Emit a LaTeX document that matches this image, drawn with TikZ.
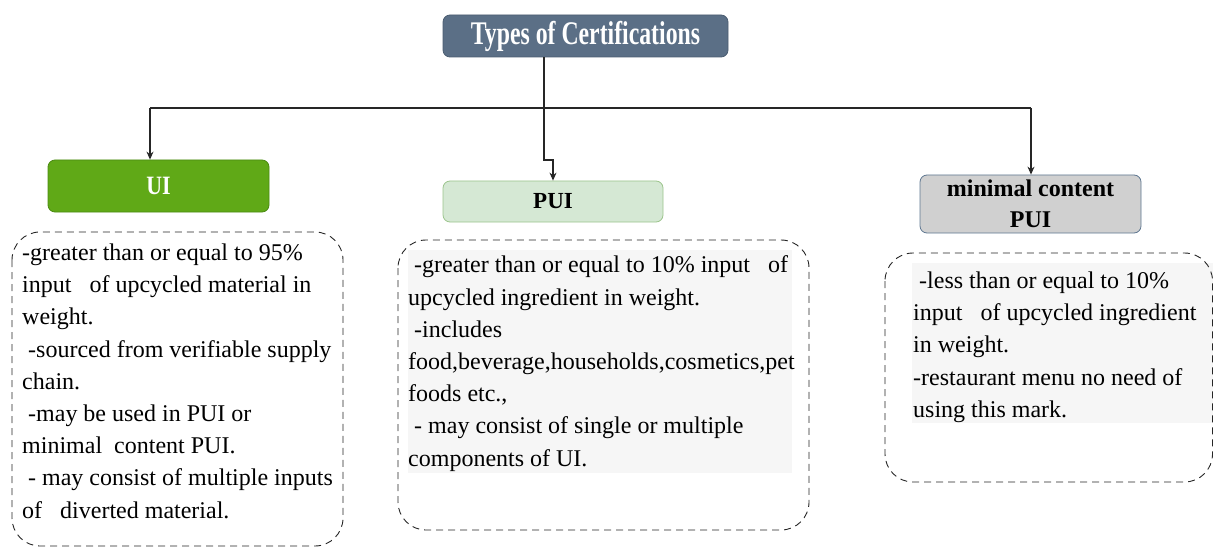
\documentclass[tikz,border=0pt]{standalone}
\usepackage{fontspec}
\setmainfont{Liberation Serif}
\usetikzlibrary{arrows.meta}
\definecolor{titlefill}{HTML}{5B6F86}
\definecolor{titledraw}{HTML}{4A5C70}
\definecolor{uifill}{HTML}{60A917}
\definecolor{uidraw}{HTML}{4A8A12}
\definecolor{puifill}{HTML}{D5E8D4}
\definecolor{puidraw}{HTML}{9CC48C}
\definecolor{mcfill}{HTML}{D0D0D0}
\definecolor{mcdraw}{HTML}{5E7690}
\definecolor{textbg}{HTML}{F6F6F6}
\begin{document}
\begin{tikzpicture}[x=1pt,y=-1pt,
  hdr/.style={draw, rounded corners=7pt, line width=0.8pt, inner sep=0pt,
    font=\bfseries\fontsize{23}{30}\selectfont, align=center},
  conn/.style={line width=1.1pt, draw=black!85},
  arr/.style={conn, -{Stealth[length=8pt,width=7pt]}},
  dbox/.style={draw=black!85, dash pattern=on 7pt off 5pt, line width=0.9pt, rounded corners=28pt},
  body/.style={anchor=north west, inner sep=0pt, align=left,
    font=\fontsize{24}{32.2}\selectfont, text=black}]
\useasboundingbox (0,0) rectangle (1214,548);

% header boxes
\node[hdr, fill=titlefill, draw=titledraw, text=white, minimum width=285pt, minimum height=42pt,
  font=\bfseries\fontsize{33}{33}\selectfont] (t) at (585.5,36) {\scalebox{0.72}[1]{Types of Certifications}};
\node[hdr, fill=uifill, draw=uidraw, text=white, minimum width=221pt, minimum height=52pt] (ui) at (158.5,186) {\scalebox{0.95}[1.15]{UI}};
\node[hdr, fill=puifill, draw=puidraw, minimum width=220pt, minimum height=41pt] (pui) at (553,201.5) {PUI};
\node[hdr, fill=mcfill, draw=mcdraw, minimum width=221pt, minimum height=58pt,
  font=\bfseries\fontsize{24}{31}\selectfont] (mc) at (1030.5,204) {minimal content\\PUI};

% connectors
\coordinate (jL) at (150,108);
\coordinate (jR) at (1031,108);
\coordinate (jM) at (544,108);
\coordinate (k1) at (544,160);
\coordinate (k2) at (553,160);
\draw[conn] (jL) -- (jR);
\draw[arr] (jL) -- (ui.north -| jL);
\draw[arr] (jR) -- (mc.north -| jR);
\draw[arr] (t.south -| jM) -- (k1) -- (k2) -- (pui.north -| k2);

% dashed description boxes
\fill[textbg] (408,250) rectangle (792,473);
\fill[textbg] (912,263) rectangle (1213,423);
\draw[dbox] (12,232) rectangle (343,546);
\draw[dbox] (398,240) rectangle (809,530);
\draw[dbox] (885,253) rectangle (1212.5,482);

\node[body] (uit) at (22,243.7) {-greater than or equal to 95\%\\
input\ \ \ of upcycled material in\\
weight.\\
\ -sourced from verifiable supply\\
chain.\\
\ -may be used in PUI or\\
minimal\ \ content PUI.\\
\ - may consist of multiple inputs\\
of\ \ \ diverted material.};

\node[body] (puit) at (408,255.7) {\ -greater than or equal to 10\% input\ \ \ of\\
upcycled ingredient in weight.\\
\ -includes\\
food,beverage,households,cosmetics,pet\\
foods etc.,\\
\ - may consist of single or multiple\\
components of UI.};

\node[body] (mct) at (913,271.7) {\ -less than or equal to 10\%\\
input\ \ \ of upcycled ingredient\\
in weight.\\
-restaurant menu no need of\\
using this mark.};
\end{tikzpicture}
\end{document}
